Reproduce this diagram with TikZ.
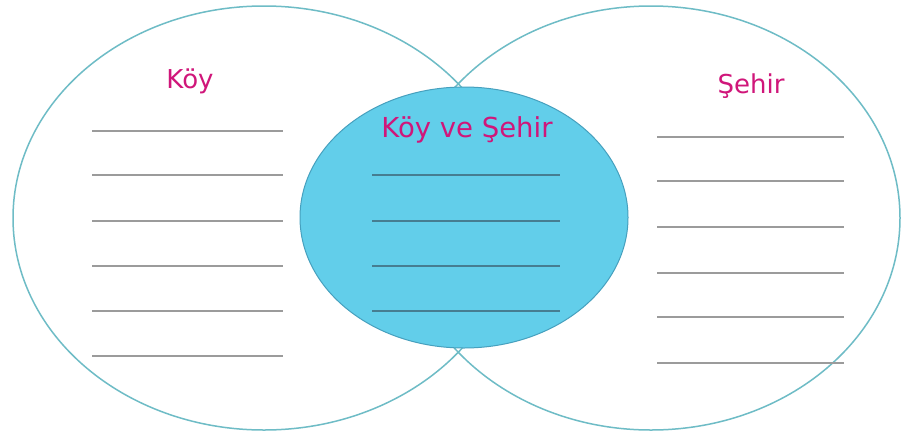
\documentclass[tikz,border=0pt]{standalone}
\usepackage{fontspec}
\setmainfont{DejaVu Sans}
\usetikzlibrary{shapes.geometric}
\definecolor{rim}{RGB}{110,188,198}
\definecolor{midfill}{RGB}{98,206,234}
\definecolor{midrim}{RGB}{70,160,190}
\definecolor{title}{RGB}{208,22,122}
\definecolor{rule}{RGB}{155,155,155}
\definecolor{midrule}{RGB}{70,125,145}
\tikzset{
  bigset/.style={ellipse, draw=rim, line width=1.5pt, fill=white, inner sep=0pt},
  midset/.style={ellipse, draw=midrim, line width=1pt, fill=midfill, inner sep=0pt},
  heading/.style={text=title, font=\fontsize{26}{30}\selectfont, inner sep=0pt, anchor=base},
  blank/.style={draw=rule, line width=1.4pt},
  midblank/.style={draw=midrule, line width=1.4pt}
}
\begin{document}
\begin{tikzpicture}[x=1pt,y=-1pt]
\useasboundingbox (0,0) rectangle (904,442);
\fill[white] (0,0) rectangle (904,442);
\node[bigset, minimum width=502pt, minimum height=424pt] (koy) at (264,218) {};
\node[bigset, fill=none, minimum width=498pt, minimum height=424pt] (sehir) at (651,218) {};
\node[midset, minimum width=328pt, minimum height=261pt] (both) at (464,217.5) {};
\node[heading] (tkoy) at (190,88) {Köy};
\node[heading] (tsehir) at (751,93) {Şehir};
\node[heading, font=\fontsize{27.5}{32}\selectfont] (tboth) at (467,137) {Köy ve Şehir};
\foreach \y in {131,175,221,266,311,356} \draw[blank] (92,\y) -- (283,\y);
\foreach \y in {137,181,227,273,317,363} \draw[blank] (657,\y) -- (844,\y);
\foreach \y in {175,221,266,311} \draw[midblank] (372,\y) -- (560,\y);
\end{tikzpicture}
\end{document}
